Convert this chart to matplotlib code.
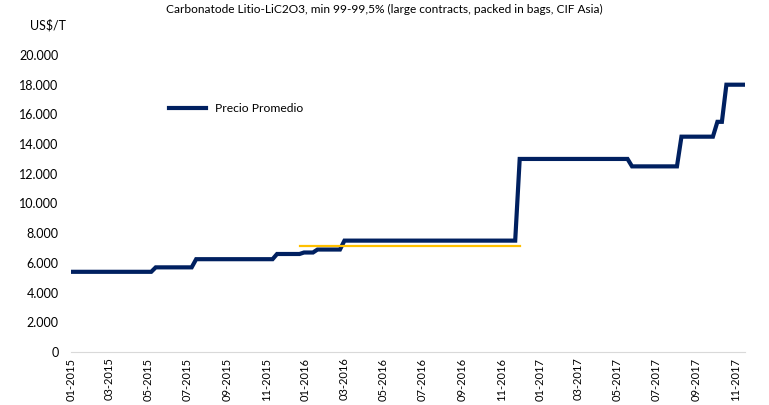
import matplotlib.pyplot as plt
import matplotlib.dates as mdates
import matplotlib.ticker as mticker
import pandas as pd

plt.rcParams['font.family'] = ['Lato', 'DejaVu Sans']

# Precio Promedio (US$/T), break points of the step line
fechas = ["2015-01-01", "2015-05-06", "2015-05-13", "2015-07-08", "2015-07-15",
          "2015-11-11", "2015-11-18", "2015-12-23", "2015-12-30", "2016-01-13",
          "2016-01-20", "2016-02-24", "2016-03-02", "2016-11-23", "2016-11-30",
          "2017-05-17", "2017-05-24", "2017-08-02", "2017-08-09", "2017-09-27",
          "2017-10-04", "2017-10-11", "2017-10-18", "2017-11-16"]
precio = [5400, 5400, 5700, 5700, 6250,
          6250, 6600, 6600, 6700, 6700,
          6900, 6900, 7500, 7500, 13000,
          13000, 12500, 12500, 14500, 14500,
          15500, 15500, 18000, 18000]

# average line (orange)
fechas_prom = ["2015-12-23", "2016-11-30"]
promedio = [7150, 7150]

fechas = pd.to_datetime(fechas)
fechas_prom = pd.to_datetime(fechas_prom)

fig = plt.figure(figsize=(7.69, 4.05), dpi=100)
ax = fig.add_axes([71 / 769, 53 / 405, 674 / 769, 297 / 405])

ax.plot(fechas, precio, color='#002060', lw=3.0, label='Precio Promedio',
        solid_joinstyle='miter')
ax.plot(fechas_prom, promedio, color='#FFC000', lw=1.6)

ax.set_ylim(0, 20000)
ax.set_xlim(pd.Timestamp("2015-01-01"), pd.Timestamp("2017-11-16"))
ax.yaxis.set_major_locator(mticker.MultipleLocator(2000))
ax.yaxis.set_major_formatter(mticker.FuncFormatter(lambda v, p: f"{int(v):,}".replace(",", ".")))
ax.xaxis.set_major_locator(mdates.MonthLocator(bymonth=[1, 3, 5, 7, 9, 11]))
ax.xaxis.set_major_formatter(mdates.DateFormatter("%m-%Y"))

for s in ['top', 'right', 'left']:
    ax.spines[s].set_visible(False)
ax.spines['bottom'].set_color('#d9d9d9')
ax.tick_params(axis='both', length=0, colors='#000000')
ax.tick_params(axis='y', labelsize=9, pad=9)
ax.tick_params(axis='x', labelsize=8, labelrotation=90, pad=4)

ax.legend(loc='center left', bbox_to_anchor=(0.13, 0.82), frameon=False,
          handlelength=3, fontsize=8.7)

fig.text(0.5, 1 - 9 / 405, "Carbonatode Litio-LiC2O3, min 99-99,5% (large contracts, packed in bags, CIF Asia)",
         ha='center', va='center', fontsize=8.6)
fig.text(30 / 769, 1 - 25 / 405, "US$/T", ha='left', va='center', fontsize=9)

fig.savefig("out.png", dpi=100)
